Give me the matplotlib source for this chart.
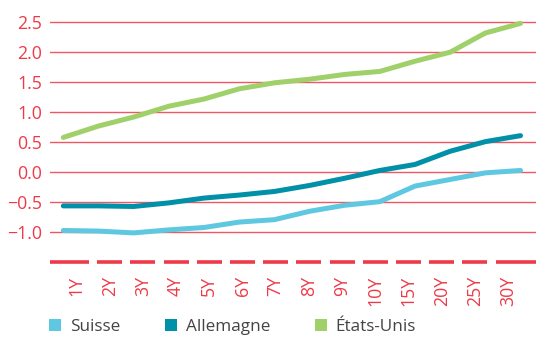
import matplotlib
matplotlib.use("Agg")
import matplotlib.pyplot as plt
from matplotlib.patches import Patch
import numpy as np

plt.rcParams['font.family'] = ['Open Sans', 'DejaVu Sans']

maturities = ["1Y", "2Y", "3Y", "4Y", "5Y", "6Y", "7Y", "8Y", "9Y", "10Y", "15Y", "20Y", "25Y", "30Y"]
suisse = [-0.97, -0.98, -1.01, -0.96, -0.92, -0.83, -0.79, -0.65, -0.55, -0.49, -0.23, -0.12, -0.01, 0.03]
allemagne = [-0.56, -0.56, -0.57, -0.51, -0.43, -0.38, -0.32, -0.22, -0.10, 0.03, 0.13, 0.35, 0.51, 0.61]
etats_unis = [0.58, 0.77, 0.92, 1.10, 1.22, 1.39, 1.49, 1.55, 1.63, 1.68, 1.85, 2.00, 2.32, 2.48]
series_names = ["Suisse", "Allemagne", "États-Unis"]
yticks = [-1.0, -0.5, 0.0, 0.5, 1.0, 1.5, 2.0, 2.5]

c_suisse = "#5EC8E0"
c_all = "#0090A8"
c_us = "#A0D06A"
red = "#EE3A48"
W, H = 536, 339
fig = plt.figure(figsize=(W / 100, H / 100), dpi=100)

left_px, right_px, top_px, bot_px = 50, 536, 15, 262.3
rect = [left_px / W, 1 - bot_px / H, (right_px - left_px) / W, (bot_px - top_px) / H]
ax = fig.add_axes(rect)
ax.set_ylim(-1.5, 2.62)
x = np.arange(len(maturities))
ax.set_xlim(-0.378, 13.44)

for yv in yticks:
    ax.axhline(yv, color=red, lw=1.0, alpha=0.85, zorder=1)

for vals, col in [(suisse, c_suisse), (allemagne, c_all), (etats_unis, c_us)]:
    ax.plot(x, vals, color=col, lw=3.6, solid_capstyle='round', solid_joinstyle='round', zorder=3)

ax.set_yticks(yticks)
ax.set_yticklabels([f"{v:.1f}".replace("-", "\u2212") for v in yticks])
ax.tick_params(axis='y', length=0, pad=5.5, labelsize=12.8, labelcolor=red)
ax.set_xticks([])
for s in ax.spines.values():
    s.set_visible(False)

# secondary category axis for labels and dashed baseline
ax2 = ax.twiny()
ax2.set_position(rect)
xl = (-0.798, 13.84)
ax2.set_xlim(*xl)
ax2.set_ylim(-1.5, 2.62)
ax2.xaxis.set_ticks_position('bottom')
ax2.xaxis.set_label_position('bottom')
ax2.set_xticks(x)
ax2.set_xticklabels(maturities, rotation=90)
ax2.tick_params(axis='x', length=0, pad=10.0, labelsize=12.8, labelcolor=red)
for s in ax2.spines.values():
    s.set_visible(False)
half = 0.377
xmin = x - half
xmax = x + half
xmin[0] = xl[0]
xmax[-1] = xl[1]
ax2.hlines([-1.5] * len(x), xmin, xmax, color=red, lw=2.6, clip_on=False, zorder=4)

handles = [Patch(facecolor=c, edgecolor='none') for c in (c_suisse, c_all, c_us)]
leg = fig.legend(handles, series_names, loc='lower left', bbox_to_anchor=(44 / W, -0.004),
                 ncol=3, frameon=False, fontsize=12.3, handlelength=0.7, handleheight=0.7,
                 handletextpad=0.5, columnspacing=2.65, borderaxespad=0, borderpad=0.3)
for t in leg.get_texts():
    t.set_color("#444444")

fig.savefig("out.png", dpi=100)
